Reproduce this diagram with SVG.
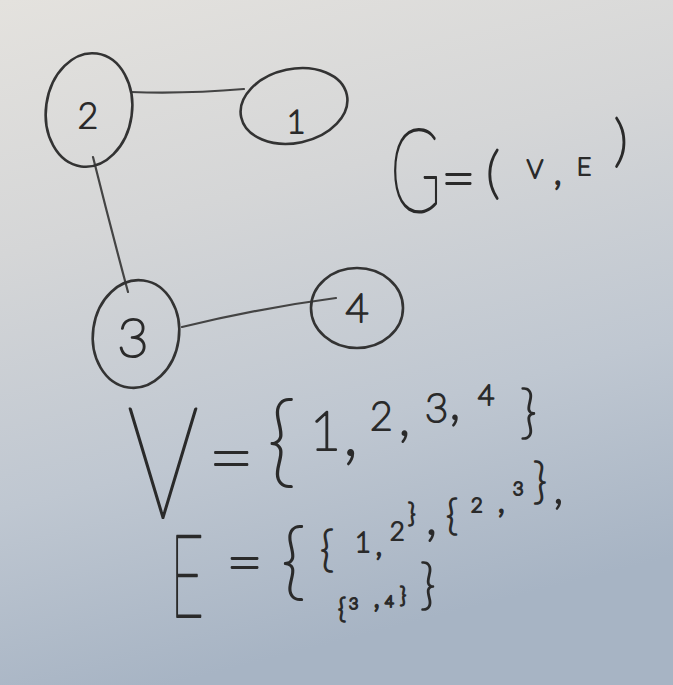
<svg xmlns="http://www.w3.org/2000/svg" width="673" height="685" viewBox="0 0 673 685">
<defs>
<linearGradient id="bg" x1="0" y1="0" x2="0.25" y2="1">
<stop offset="0" stop-color="#e4e2de"/>
<stop offset="0.35" stop-color="#d5d6d7"/>
<stop offset="0.7" stop-color="#bfc7d1"/>
<stop offset="1" stop-color="#a7b4c4"/>
</linearGradient>
</defs>
<style>
.node{fill:none;stroke:#333;stroke-width:2.6}
.edge{fill:none;stroke:#444;stroke-width:2.2;stroke-linecap:round}
.hw{font-family:Lato,"Open Sans","DejaVu Sans",sans-serif;font-weight:200;fill:#2a2a2a;stroke:#2a2a2a;stroke-linejoin:round;stroke-linecap:round}
.s2{stroke-width:2.2}
.big{stroke-width:2.2}
</style>
<rect width="673" height="685" fill="url(#bg)"/>
<g id="connectors">
<path class="edge" d="M131,92 Q185,94 244,89"/>
<path class="edge" d="M93,157 Q110,225 128,292"/>
<path class="edge" d="M182,327 Q260,308 336,298"/>
</g>
<g id="node-2">
<ellipse class="node" cx="89" cy="110" rx="43" ry="57" transform="rotate(8 89 110)"/>
<text class="hw s2" x="88" y="128" font-size="35" text-anchor="middle">2</text>
</g>
<g id="node-1">
<ellipse class="node" cx="294" cy="106" rx="54" ry="37" transform="rotate(-12 294 106)"/>
<text class="hw s2" x="296" y="133" font-size="32" text-anchor="middle">1</text>
</g>
<g id="node-3">
<ellipse class="node" cx="136" cy="334" rx="43" ry="54" transform="rotate(8 136 334)"/>
<text class="hw s2" x="133" y="357" font-size="54" text-anchor="middle">3</text>
</g>
<g id="node-4">
<ellipse class="node" cx="357" cy="308" rx="46" ry="40"/>
<text class="hw s2" x="357" y="322" font-size="40" text-anchor="middle">4</text>
</g>
<g id="formula-g">
<text class="hw big" transform="translate(390,212) scale(0.6,1)" font-size="116">G</text>
<text class="hw s2"><tspan x="441" y="199" font-size="60">=</tspan><tspan x="486" y="192" font-size="55">(</tspan><tspan x="527" y="178" font-size="25">V</tspan><tspan x="553" y="184" font-size="44">,</tspan><tspan x="577" y="175" font-size="24">E</tspan><tspan x="614" y="160" font-size="55">)</tspan></text>
</g>
<g id="formula-v">
<text class="hw big" transform="translate(127,518) scale(0.72,1)" font-size="157">V</text>
<text class="hw s2"><tspan x="208" y="486" font-size="80">=</tspan><tspan x="267" y="475" font-size="100">{</tspan><tspan x="310" y="450" font-size="53">1</tspan><tspan x="342" y="455" font-size="80">,</tspan><tspan x="370" y="430" font-size="39">2</tspan><tspan x="398" y="435" font-size="60">,</tspan><tspan x="425" y="422" font-size="40">3</tspan><tspan x="449" y="419" font-size="55">,</tspan><tspan x="478" y="405" font-size="28">4</tspan><tspan x="520" y="432" font-size="58">}</tspan></text>
</g>
<g id="formula-e">
<text class="hw big" transform="translate(170,617) scale(0.5,1)" font-size="117">E</text>
<text class="hw s2"><tspan x="226" y="585" font-size="64">=</tspan><tspan x="281" y="590" font-size="85">{</tspan><tspan x="320" y="566" font-size="48">{</tspan><tspan x="355" y="552" font-size="27">1</tspan><tspan x="375" y="555" font-size="36">,</tspan><tspan x="390" y="540" font-size="25">2</tspan><tspan x="408" y="522" font-size="26">}</tspan><tspan x="425" y="534" font-size="60">,</tspan><tspan x="446" y="530" font-size="41">{</tspan><tspan x="471" y="512" font-size="20">2</tspan><tspan x="497" y="512" font-size="40">,</tspan><tspan x="513" y="495" font-size="18">3</tspan><tspan x="533" y="498" font-size="48">}</tspan><tspan x="553" y="503" font-size="50">,</tspan><tspan x="338" y="618" font-size="27">{</tspan><tspan x="349" y="609" font-size="16">3</tspan><tspan x="373" y="607" font-size="34">,</tspan><tspan x="385" y="607" font-size="15">4</tspan><tspan x="400" y="603" font-size="21">}</tspan><tspan x="420" y="603" font-size="54">}</tspan></text>
</g>
</svg>
